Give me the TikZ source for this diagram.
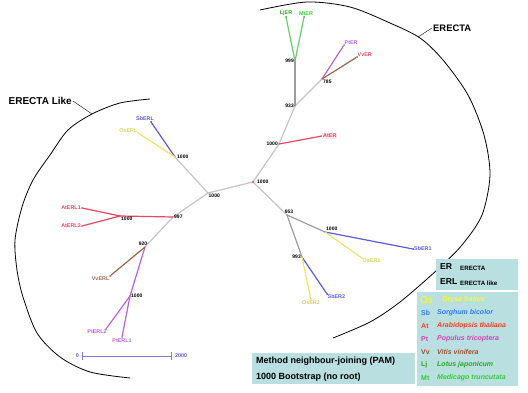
\documentclass[tikz,border=0pt]{standalone}
\usepackage{fontspec}
\setmainfont{Liberation Sans}
\definecolor{brgray}{HTML}{C4C4C4}
\definecolor{dkgray}{HTML}{9C9C9C}
\definecolor{brgreen}{HTML}{6CCB6C}
\definecolor{brpurple}{HTML}{B463DA}
\definecolor{brbrown}{HTML}{A0624E}
\definecolor{brred}{HTML}{E84560}
\definecolor{brblue}{HTML}{5A5ADA}
\definecolor{bryellow}{HTML}{F0E268}
\definecolor{legbg}{HTML}{B9DFE0}
\definecolor{txyellow}{HTML}{FFFF00}
\definecolor{txblue}{HTML}{2E7DFF}
\definecolor{txred}{HTML}{FF4020}
\definecolor{txpink}{HTML}{CC44BB}
\definecolor{txbrown}{HTML}{A0522D}
\definecolor{txgreen}{HTML}{22AA22}
\definecolor{txlime}{HTML}{33CC33}
\begin{document}
\begin{tikzpicture}[x=1pt,y=-1pt,
  br/.style={line width=1.2pt,line cap=round},
  lf/.style={font=\bfseries\fontsize{5.4}{6}\selectfont,inner sep=1pt},
  bs/.style={font=\bfseries\fontsize{5}{5}\selectfont,inner sep=1pt},
  tipdot/.style={circle,fill,inner sep=0pt,minimum size=2pt},
  legtx/.style={anchor=west,inner sep=0pt,font=\bfseries\fontsize{7}{8}\selectfont}]
\useasboundingbox (0,0) rectangle (528,393);

% the two clade arcs
\draw[thick] plot[smooth] coordinates {(150,99) (120,103) (92,114) (68,130) (50,155)
  (33,180) (22,207) (15,240) (17,270) (23,297) (37,333) (60,357) (90,372) (130,378)};
\draw[thick] plot[smooth] coordinates {(260,10) (307,2) (350,7) (390,23) (420,38)
  (443,60) (468,95) (484,135) (490,175) (482,215) (462,245) (437,270) (400,302)
  (370,322) (333,338)};
\coordinate (erlarc) at (92,114);
\coordinate (erarc) at (418,37);
\node[anchor=east,inner sep=1pt,font=\bfseries\fontsize{10}{10}\selectfont] (erltitle) at (73,101) {ERECTA Like};
\node[anchor=west,inner sep=1pt,font=\bfseries\fontsize{9.4}{10}\selectfont] (ertitle) at (432,28) {ERECTA};
\draw (erltitle.east) -- (erlarc);
\draw (ertitle.west) -- (erarc);

% inner nodes
\coordinate (root) at (253,182);
\coordinate (nAt) at (279,144);
\coordinate (n933) at (295,106);
\coordinate (n999) at (295,61);
\coordinate (n785) at (322,79);
\coordinate (n953) at (287,215);
\coordinate (nSbOs) at (325,232);
\coordinate (n993) at (302,257);
\coordinate (nIn) at (208,193);
\coordinate (nErl) at (175,157);
\coordinate (n997) at (173,217);
\coordinate (nAtm) at (120,216);
\coordinate (n920) at (145,247);
\coordinate (nPt) at (130,296);

% leaves
\node[tipdot,brgreen!70!black] (lLj) at (286,17) {};
\node[tipdot,brgreen!70!black] (lMt) at (304,17) {};
\node[tipdot,brpurple] (lPt) at (344,45) {};
\node[tipdot,brbrown] (lVv) at (357,57) {};
\node[tipdot,brred!80!black] (lAt) at (322,136) {};
\node[tipdot,brblue!70!black] (lSb1) at (413,249) {};
\node[tipdot,bryellow] (lOs1) at (362,258) {};
\node[tipdot,brblue!70!black] (lSb2) at (327,294) {};
\node[tipdot,bryellow] (lOs2) at (311,300) {};
\node[tipdot,brblue!70!black] (lSbL) at (151,122) {};
\node[tipdot,bryellow] (lOsL) at (138,133) {};
\node[tipdot,brred] (lAt1) at (82,208) {};
\node[tipdot,brred] (lAt2) at (82,226) {};
\node[tipdot,brbrown] (lVvL) at (110,276) {};
\node[tipdot,brpurple] (lPt2) at (106,329) {};
\node[tipdot,brpurple] (lPt1) at (122,337) {};

% branches
\foreach \a/\b in {root/nAt,root/n953,root/nIn,nIn/nErl,nIn/n997,n997/n920,n933/n785,nAt/n933}
  \draw[br,brgray] (\a) -- (\b);
\foreach \a/\b in {n933/n999,n953/nSbOs,n953/n993}
  \draw[br,dkgray] (\a) -- (\b);
\foreach \a/\b in {n999/lLj,n999/lMt}
  \draw[br,brgreen] (\a) -- (\b);
\foreach \a/\b in {n785/lPt,n920/nPt,nPt/lPt2,nPt/lPt1}
  \draw[br,brpurple] (\a) -- (\b);
\foreach \a/\b in {n785/lVv,n920/lVvL}
  \draw[br,brbrown] (\a) -- (\b);
\foreach \a/\b in {nAt/lAt,n997/nAtm,nAtm/lAt1,nAtm/lAt2}
  \draw[br,brred] (\a) -- (\b);
\foreach \a/\b in {nSbOs/lSb1,n993/lSb2,nErl/lSbL}
  \draw[br,brblue] (\a) -- (\b);
\foreach \a/\b in {nSbOs/lOs1,n993/lOs2,nErl/lOsL}
  \draw[br,bryellow] (\a) -- (\b);
\node[tipdot,brred,minimum size=2.4pt] (rootdot) at (root) {};

% leaf labels
\node[lf,txgreen,above] at (lLj) {LjER};
\node[lf,txlime,above] at ([xshift=2]lMt) {MtER};
\node[lf,brpurple,above right,inner sep=0.5pt] at (lPt) {PtER};
\node[lf,brred!80!brbrown,above right,inner sep=0.5pt] at (lVv) {VvER};
\node[lf,brred,right,fill=brred!12] at (lAt) {AtER};
\node[lf,brblue,right] at (lSb1) {SbER1};
\node[lf,bryellow!90!black,below right,inner sep=0.5pt] at (lOs1) {OsER1};
\node[lf,brblue,below right,inner sep=0.5pt] at (lSb2) {SbER2};
\node[lf,bryellow!90!black,below] at (lOs2) {OsER2};
\node[lf,brblue,above,xshift=-6] at (lSbL) {SbERL};
\node[lf,bryellow!90!black,above left,inner sep=0.5pt] at (lOsL) {OsERL};
\node[lf,brred,left] at (lAt1) {AtERL1};
\node[lf,brred,left] at (lAt2) {AtERL2};
\node[lf,brbrown,below left,inner sep=0.5pt] at (lVvL) {VvERL};
\node[lf,brpurple,below,xshift=-9] at (lPt2) {PtERL2};
\node[lf,brpurple,below,yshift=-1] at (lPt1) {PtERL1};

% bootstrap values
\node[bs,left] at (nAt) {1000};
\node[bs,left] at (n933) {933};
\node[bs,left] at (n999) {999};
\node[bs,below right] at (n785) {785};
\node[bs,right,xshift=3] at (root) {1000};
\node[bs,above,xshift=2] at (n953) {953};
\node[bs,above right] at (nSbOs) {1000};
\node[bs,left] at (n993) {993};
\node[bs,below right,inner sep=0.5pt] at (nIn) {1000};
\node[bs,right,xshift=1] at (nErl) {1000};
\node[bs,right] at (n997) {997};
\node[bs,below right] at (nAtm) {1000};
\node[bs,above,xshift=-2] at (n920) {920};
\node[bs,right] at (nPt) {1000};

% scale bar
\coordinate (sb0) at (82,356);
\coordinate (sb1) at (172,356);
\draw[brblue!80,line width=0.9pt,{|-|}] (sb0) -- (sb1);
\node[lf,brblue,left,xshift=-2] (sbzero) at (sb0) {0};
\node[lf,brblue,right,xshift=2] (sbmax) at (sb1) {2000};

% legend boxes
\fill[legbg] (436,259) rectangle (518,290);
\node[anchor=west,inner sep=0pt,font=\bfseries\fontsize{8.6}{9}\selectfont] (erabbr) at (440,267) {ER};
\node[legtx,font=\bfseries\fontsize{6.2}{7}\selectfont] (erfull) at (460,268) {ERECTA};
\node[anchor=west,inner sep=0pt,font=\bfseries\fontsize{8.6}{9}\selectfont] (erlabbr) at (440,282) {ERL};
\node[legtx,font=\bfseries\fontsize{6.2}{7}\selectfont] (erlfull) at (460,283) {ERECTA like};

\fill[legbg] (417,292) rectangle (518,386);
\node[anchor=west,inner sep=0pt,txyellow,font=\fontsize{10}{10}\selectfont] (osabbr) at (420,300) {Os};
\node[legtx,txyellow,font=\bfseries\itshape\fontsize{7}{8}\selectfont] (osname) at (442,300) {Orysa Sativa};
\foreach \ab/\nm/\col/\yy in {Sb/Sorghum bicolor/txblue/313, At/Arabidopsis thaliana/txred/326,
    Pt/Populus tricoptera/txpink/339, Vv/Vitis vinifera/txbrown/352,
    Lj/Lotus japonicum/txgreen/365, Mt/Medicago truncutata/txlime/378} {
  \node[legtx,\col] at (421,\yy) {\ab};
  \node[legtx,\col,font=\bfseries\itshape\fontsize{7}{8}\selectfont] at (437,\yy) {\nm};
}

\fill[legbg] (252,353) rectangle (415,384);
\node[legtx,font=\bfseries\fontsize{9}{10}\selectfont] (method) at (256,361) {Method neighbour-joining (PAM)};
\node[legtx,font=\bfseries\fontsize{9}{10}\selectfont] (boot) at (256,377) {1000 Bootstrap (no root)};
\end{tikzpicture}
\end{document}
